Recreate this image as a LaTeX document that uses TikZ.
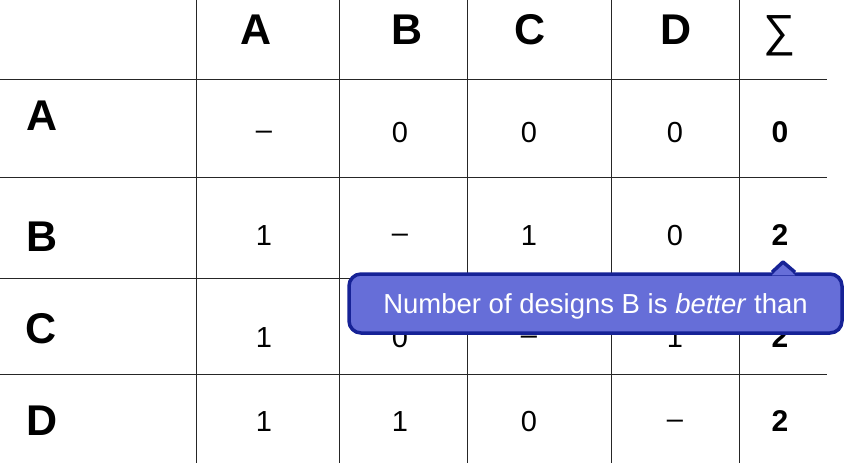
\documentclass[tikz,border=0pt]{standalone}
\usepackage{fontspec}
\setmainfont{Liberation Sans}
\usetikzlibrary{positioning}
\definecolor{notefill}{RGB}{102,110,216}
\definecolor{noteedge}{RGB}{22,34,150}
\newcommand{\nil}{\raisebox{3pt}{--}}
\tikzset{
  hdr/.style={inner sep=0pt, font=\fontsize{43}{43}\selectfont\bfseries},
  cell/.style={inner sep=0pt, text height=21pt, text depth=0pt, font=\fontsize{29}{29}\selectfont},
  total/.style={inner sep=0pt, font=\fontsize{30}{30}\selectfont\bfseries},
  rule/.style={line width=1pt, black!85},
  note/.style={inner sep=0pt, text=white, font=\fontsize{27.5}{27.5}\selectfont,
    text height=19pt, text depth=0pt,
    minimum width=493pt, minimum height=59pt, rounded corners=12pt,
    draw=noteedge, fill=notefill, line width=3.5pt},
}

\begin{document}
\begin{tikzpicture}[x=1pt,y=-1pt]
        \useasboundingbox (0,0) rectangle (845,473);

        % table rules
        \foreach \y in {80,178,278,374} \draw[rule] (0,\y) -- (827,\y);
        \foreach \x in {196,339,467,611,739} \draw[rule] (\x,0) -- (\x,463);

        % column heads
        \node[hdr]                  (h_A)    at (256,30)     {A};
        \node[hdr]                  (h_B)    at (407,30)     {B};
        \node[hdr]                  (h_C)    at (530,30)     {C};
        \node[hdr]                  (h_D)    at (676,30)     {D};
        \node[inner sep=0pt, font=\fontsize{45}{45}\selectfont]
                                    (h_S)    at (780,36)     {∑};

        % row heads
        \node[hdr]                  (r_A)    at (42,116)     {A};
        \node[hdr]                  (r_B)    at (42,237)     {B};
        \node[hdr]                  (r_C)    at (41,329)     {C};
        \node[hdr]                  (r_D)    at (42,421)     {D};

        % cells and totals
        \foreach \r/\y/\a/\b/\c/\d/\s in {A/132/\nil/0/0/0/0, B/235/1/\nil/1/0/2,
                                          C/337/1/0/\nil/1/2, D/421/1/1/0/\nil/2} {
            \node[cell]  (c_\r A) at (264,\y) {\a};
            \node[cell]  (c_\r B) at (400,\y) {\b};
            \node[cell]  (c_\r C) at (529,\y) {\c};
            \node[cell]  (c_\r D) at (675,\y) {\d};
            \node[total] (s_\r)   at (780,\y) {\s};
        }

        % callout
        \node[note]                 (note)   at (595.5,303.5) {Number of designs B is \textit{better} than};
        \coordinate                 (tip)    at (783,262);
        \fill[notefill] ([xshift=-11pt,yshift=-3pt]tip |- note.north) -- (tip)
            -- ([xshift=12pt,yshift=-3pt]tip |- note.north) -- cycle;
        \draw[noteedge, line width=3.5pt, line join=round]
            ([xshift=-11pt]tip |- note.north) -- (tip) -- ([xshift=12pt]tip |- note.north);
\end{tikzpicture}
\end{document}
